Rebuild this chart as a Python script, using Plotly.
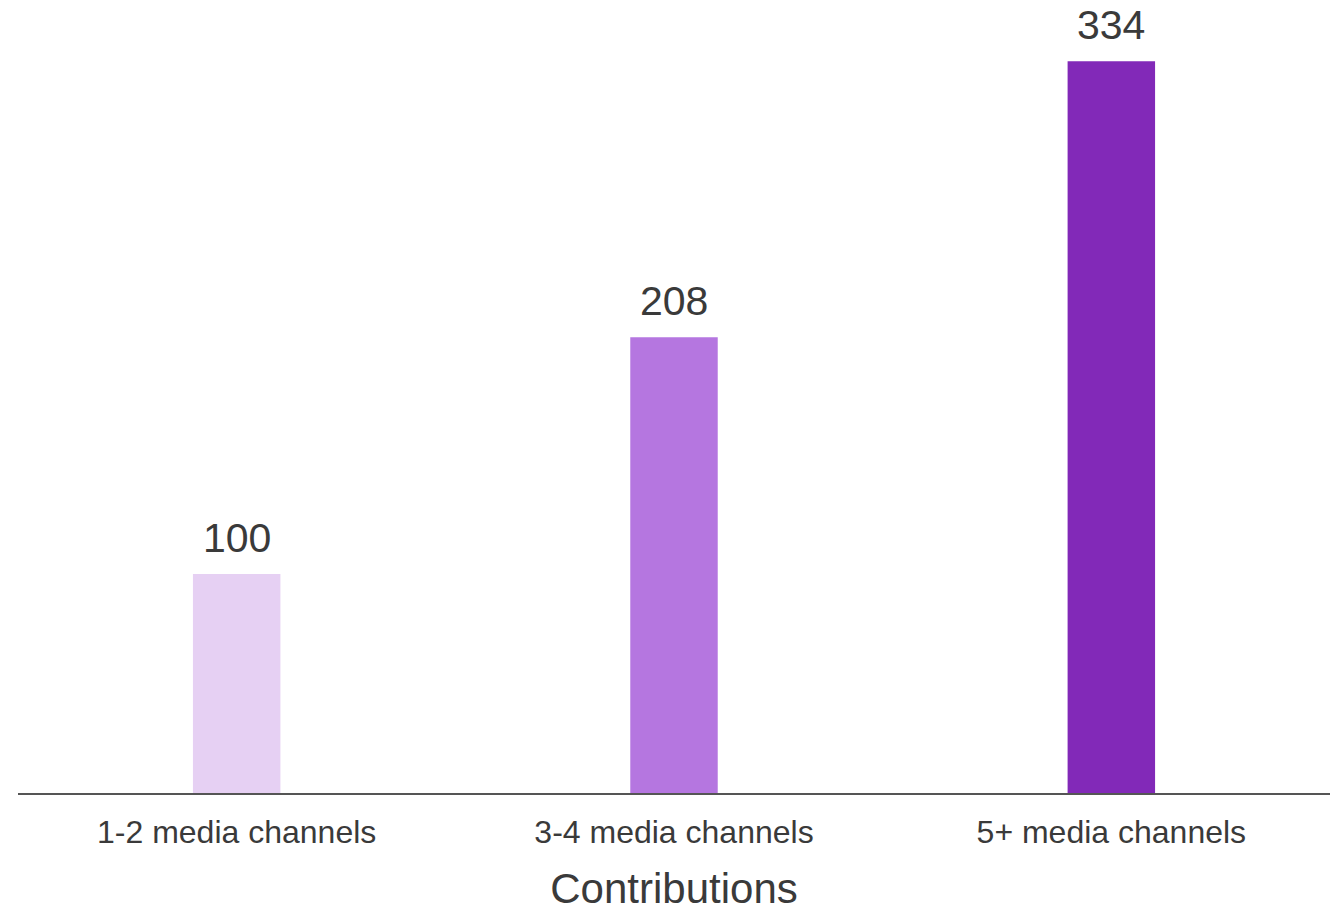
import plotly.graph_objects as go

categories = ["1-2 media channels", "3-4 media channels", "5+ media channels"]
values = [100, 208, 334]
colors = ["#E6D0F3", "#B576E0", "#8229B8"]
x_title = "Contributions"

FONT = "Liberation Sans, Arial, sans-serif"
TXT = "#3a3a3a"

fig = go.Figure()
fig.add_trace(go.Bar(
    x=categories, y=values,
    marker=dict(color=colors, line=dict(width=0)),
    hoverinfo="skip",
))

for c, v in zip(categories, values):
    fig.add_annotation(
        x=c, y=v, text=str(v), showarrow=False,
        yanchor="bottom", yshift=11,
        font=dict(family=FONT, size=41, color=TXT),
    )

fig.update_layout(
    width=1340, height=919,
    margin=dict(l=18, r=10, t=0, b=126),
    paper_bgcolor="white", plot_bgcolor="white",
    bargap=0.8,
    showlegend=False,
    font=dict(family=FONT, color=TXT),
    xaxis=dict(
        showline=True, linecolor="#555555", linewidth=2,
        showgrid=False, ticks="outside", ticklen=10, tickcolor="rgba(0,0,0,0)",
        tickfont=dict(size=32, color=TXT),
        automargin=False,
        title=dict(text=x_title, font=dict(size=42, color=TXT), standoff=24),
    ),
    yaxis=dict(
        range=[0, 362], visible=False, showgrid=False, zeroline=False,
    ),
)

fig.write_html("out.html")
